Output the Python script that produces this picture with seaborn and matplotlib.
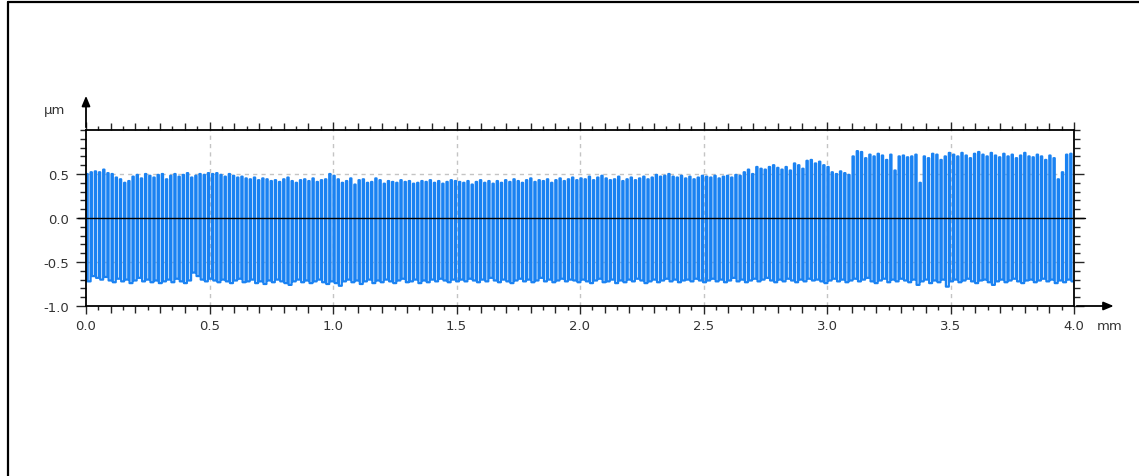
import numpy as np
import pandas as pd
import matplotlib.pyplot as plt
import seaborn as sns
from matplotlib.lines import Line2D
from matplotlib.ticker import MultipleLocator

# -------------------------
# Profile data, one value per wave
# -------------------------
length_mm = 4.0

peaks = [
    # 0.0 - 0.5 mm
    0.50, 0.52, 0.53, 0.52, 0.55, 0.51, 0.50, 0.46, 0.44, 0.40,
    0.42, 0.47, 0.49, 0.45, 0.50, 0.48, 0.46, 0.49, 0.50, 0.44,
    0.48, 0.50, 0.47, 0.49, 0.51, 0.46, 0.48, 0.50, 0.49, 0.51,
    # 0.5 - 1.0 mm
    0.50, 0.51, 0.49, 0.47, 0.50, 0.48, 0.46, 0.47, 0.45, 0.44,
    0.46, 0.43, 0.45, 0.44, 0.42, 0.43, 0.41, 0.44, 0.46, 0.42,
    0.40, 0.43, 0.44, 0.42, 0.45, 0.41, 0.43, 0.44, 0.50,
    # 1.0 - 1.5 mm
    0.48, 0.44, 0.40, 0.42, 0.45, 0.38, 0.43, 0.44, 0.40, 0.41,
    0.45, 0.43, 0.39, 0.42, 0.41, 0.40, 0.43, 0.41, 0.42, 0.39,
    0.40, 0.42, 0.41, 0.43, 0.40, 0.42, 0.39, 0.41, 0.43, 0.42,
    # 1.5 - 2.0 mm
    0.41, 0.40, 0.42, 0.38, 0.41, 0.43, 0.40, 0.42, 0.39, 0.42,
    0.40, 0.43, 0.41, 0.44, 0.42, 0.40, 0.43, 0.45, 0.41, 0.43,
    0.42, 0.44, 0.40, 0.43, 0.45, 0.42, 0.44, 0.46, 0.43,
    # 2.0 - 2.5 mm
    0.45, 0.44, 0.47, 0.43, 0.46, 0.48, 0.45, 0.43, 0.44, 0.47,
    0.42, 0.44, 0.46, 0.43, 0.45, 0.47, 0.44, 0.46, 0.49, 0.47,
    0.48, 0.50, 0.47, 0.46, 0.48, 0.45, 0.47, 0.44, 0.46, 0.48,
    # 2.5 - 3.0 mm
    0.47, 0.46, 0.48, 0.45, 0.47, 0.48, 0.46, 0.49, 0.48, 0.52,
    0.55, 0.50, 0.58, 0.56, 0.55, 0.58, 0.60, 0.57, 0.55, 0.58,
    0.54, 0.62, 0.60, 0.56, 0.65, 0.66, 0.62, 0.64, 0.60,
    # 3.0 - 3.5 mm
    0.58, 0.52, 0.50, 0.53, 0.51, 0.49, 0.70, 0.76, 0.75, 0.68,
    0.72, 0.70, 0.73, 0.71, 0.66, 0.72, 0.54, 0.70, 0.71, 0.69,
    0.70, 0.72, 0.40, 0.70, 0.68, 0.73, 0.72, 0.66, 0.70, 0.74,
    # 3.5 - 4.0 mm
    0.72, 0.70, 0.74, 0.71, 0.68, 0.73, 0.75, 0.72, 0.70, 0.74,
    0.71, 0.69, 0.73, 0.70, 0.72, 0.68, 0.71, 0.74, 0.70, 0.69,
    0.72, 0.70, 0.66, 0.71, 0.68, 0.44, 0.52, 0.72, 0.73,
]

troughs = [
    # 0.0 - 0.5 mm
    -0.72, -0.66, -0.68, -0.70, -0.67, -0.71, -0.73, -0.69, -0.72, -0.70,
    -0.74, -0.71, -0.68, -0.72, -0.70, -0.73, -0.71, -0.74, -0.72, -0.70,
    -0.73, -0.69, -0.72, -0.74, -0.71, -0.62, -0.66, -0.70, -0.72, -0.69,
    # 0.5 - 1.0 mm
    -0.71, -0.73, -0.70, -0.72, -0.74, -0.71, -0.69, -0.73, -0.72, -0.70,
    -0.74, -0.72, -0.75, -0.71, -0.73, -0.70, -0.72, -0.74, -0.76, -0.72,
    -0.70, -0.73, -0.71, -0.74, -0.72, -0.70, -0.73, -0.75, -0.72,
    # 1.0 - 1.5 mm
    -0.74, -0.77, -0.72, -0.70, -0.73, -0.71, -0.75, -0.72, -0.70, -0.74,
    -0.71, -0.73, -0.70, -0.72, -0.74, -0.71, -0.69, -0.73, -0.72, -0.70,
    -0.74, -0.71, -0.73, -0.70, -0.72, -0.69, -0.71, -0.73, -0.70, -0.72,
    # 1.5 - 2.0 mm
    -0.70, -0.72, -0.69, -0.71, -0.73, -0.70, -0.72, -0.68, -0.71, -0.73,
    -0.70, -0.72, -0.74, -0.71, -0.69, -0.72, -0.70, -0.73, -0.71, -0.68,
    -0.72, -0.70, -0.73, -0.71, -0.69, -0.72, -0.70, -0.71, -0.73,
    # 2.0 - 2.5 mm
    -0.70, -0.72, -0.74, -0.71, -0.69, -0.73, -0.72, -0.70, -0.74, -0.71,
    -0.73, -0.70, -0.72, -0.69, -0.71, -0.74, -0.72, -0.70, -0.73, -0.71,
    -0.69, -0.72, -0.70, -0.73, -0.71, -0.70, -0.72, -0.69, -0.71, -0.73,
    # 2.5 - 3.0 mm
    -0.71, -0.69, -0.72, -0.70, -0.73, -0.71, -0.68, -0.72, -0.70, -0.73,
    -0.71, -0.69, -0.72, -0.70, -0.68, -0.71, -0.73, -0.70, -0.72, -0.69,
    -0.71, -0.73, -0.70, -0.72, -0.69, -0.71, -0.70, -0.72, -0.74,
    # 3.0 - 3.5 mm
    -0.71, -0.69, -0.72, -0.70, -0.73, -0.71, -0.69, -0.72, -0.70, -0.68,
    -0.72, -0.74, -0.71, -0.69, -0.73, -0.70, -0.72, -0.69, -0.71, -0.73,
    -0.70, -0.76, -0.72, -0.70, -0.74, -0.71, -0.73, -0.70, -0.78, -0.72,
    # 3.5 - 4.0 mm
    -0.70, -0.73, -0.71, -0.69, -0.72, -0.74, -0.71, -0.70, -0.73, -0.76,
    -0.72, -0.70, -0.73, -0.71, -0.69, -0.72, -0.74, -0.71, -0.70, -0.73,
    -0.71, -0.69, -0.72, -0.70, -0.74, -0.71, -0.73, -0.70, -0.72,
]

x_ticks = [0.0, 0.5, 1.0, 1.5, 2.0, 2.5, 3.0, 3.5, 4.0]
x_tick_labels = ["0.0", "0.5", "1.0", "1.5", "2.0", "2.5", "3.0", "3.5", "4.0"]
y_ticks = [-1.0, -0.5, 0.0, 0.5]
y_tick_labels = ["-1.0", "-0.5", "0.0", "0.5"]

# build the profile as steep-sided waves: rise, flat top, fall, flat bottom
n = len(peaks)
step = length_mm / n
top_w = 0.3 * step
xs, zs = [0.0], [troughs[0]]
for i in range(n):
    x0 = i * step + 0.1 * step
    xs += [x0, x0, x0 + top_w, x0 + top_w]
    zs += [troughs[i - 1] if i > 0 else troughs[0], peaks[i], peaks[i], troughs[i]]
xs.append(length_mm)
zs.append(troughs[-1])
df = pd.DataFrame({"x": xs, "z": zs})

# -------------------------
# Plot
# -------------------------
sns.set_style("white")
plt.rcParams["font.family"] = ["DejaVu Sans"]
fs = 9.5
txt_col = "#333333"

W, H = 1139, 477
fig = plt.figure(figsize=(W / 100, H / 100), dpi=100)
ax = fig.add_axes([86 / W, 1 - 307 / H, 988 / W, 176 / H])

line_col = "#1a82f2"
sns.lineplot(data=df, x="x", y="z", ax=ax, color=line_col, lw=1.6,
             estimator=None, sort=False, snap=False)

ax.set_xlim(0, 4.0)
ax.set_ylim(-1.0, 1.0)
ax.set_xlabel("")
ax.set_ylabel("")

# grid
for gx in x_ticks[1:-1]:
    ax.axvline(gx, color="#c4c4c4", lw=1, ls=(0, (3, 3)), zorder=0)
for gy in [0.5, -0.5]:
    ax.axhline(gy, color="#c4c4c4", lw=1, ls=(0, (3, 3)), zorder=0)

# zero line, a little past both spines
ax.axhline(0, xmin=-0.008, xmax=1.011, color="black", lw=1, clip_on=False, zorder=3)

for s in ax.spines.values():
    s.set_visible(True)
    s.set_color("black")
    s.set_linewidth(1.3)

ax.set_xticks(x_ticks)
ax.set_xticklabels(x_tick_labels)
ax.set_yticks(y_ticks)
ax.set_yticklabels(y_tick_labels)
ax.xaxis.set_minor_locator(MultipleLocator(0.1))
ax.yaxis.set_minor_locator(MultipleLocator(0.1))
ax.tick_params(axis="x", which="major", direction="out", length=6, width=1,
               top=True, bottom=True, labelsize=fs, labelcolor=txt_col, pad=3)
ax.tick_params(axis="x", which="minor", direction="out", length=5, width=1,
               top=True, bottom=True)
ax.tick_params(axis="y", which="major", direction="out", length=7, width=1,
               left=True, right=True, labelsize=fs, labelcolor=txt_col, pad=5)
ax.tick_params(axis="y", which="minor", direction="out", length=4, width=1,
               left=True, right=True)

# half-step ticks (0.05 mm) on bottom and top
for loc in ["bottom", "top"]:
    sec = ax.secondary_xaxis(loc)
    sec.set_xticks(np.arange(0.05, 4.0, 0.1))
    sec.tick_params(direction="out", length=3, width=1, labelbottom=False,
                    labeltop=False)
    sec.spines[loc].set_visible(False)

# axis arrows
ax.annotate("", xy=(0, 1.21), xytext=(0, 1.0), xycoords="axes fraction",
            arrowprops=dict(arrowstyle="-|>,head_length=0.6,head_width=0.25",
                            color="black", lw=1.3), annotation_clip=False)
ax.annotate("", xy=(1.043, 0), xytext=(1.0, 0), xycoords="axes fraction",
            arrowprops=dict(arrowstyle="-|>,head_length=0.6,head_width=0.25",
                            color="black", lw=1.3), annotation_clip=False)

ax.text(-0.032, 1.115, "µm", transform=ax.transAxes, ha="center", va="center",
        fontsize=fs, color=txt_col)
ax.text(1.023, -0.108, "mm", transform=ax.transAxes, ha="left", va="center",
        fontsize=fs, color=txt_col)

# frame of the original panel (top and left edge)
fig.add_artist(Line2D([8 / W, 1], [1 - 3 / H, 1 - 3 / H], color="black", lw=1.6))
fig.add_artist(Line2D([8 / W, 8 / W], [0, 1 - 3 / H], color="black", lw=1.6))

fig.savefig("out.png", dpi=100)
